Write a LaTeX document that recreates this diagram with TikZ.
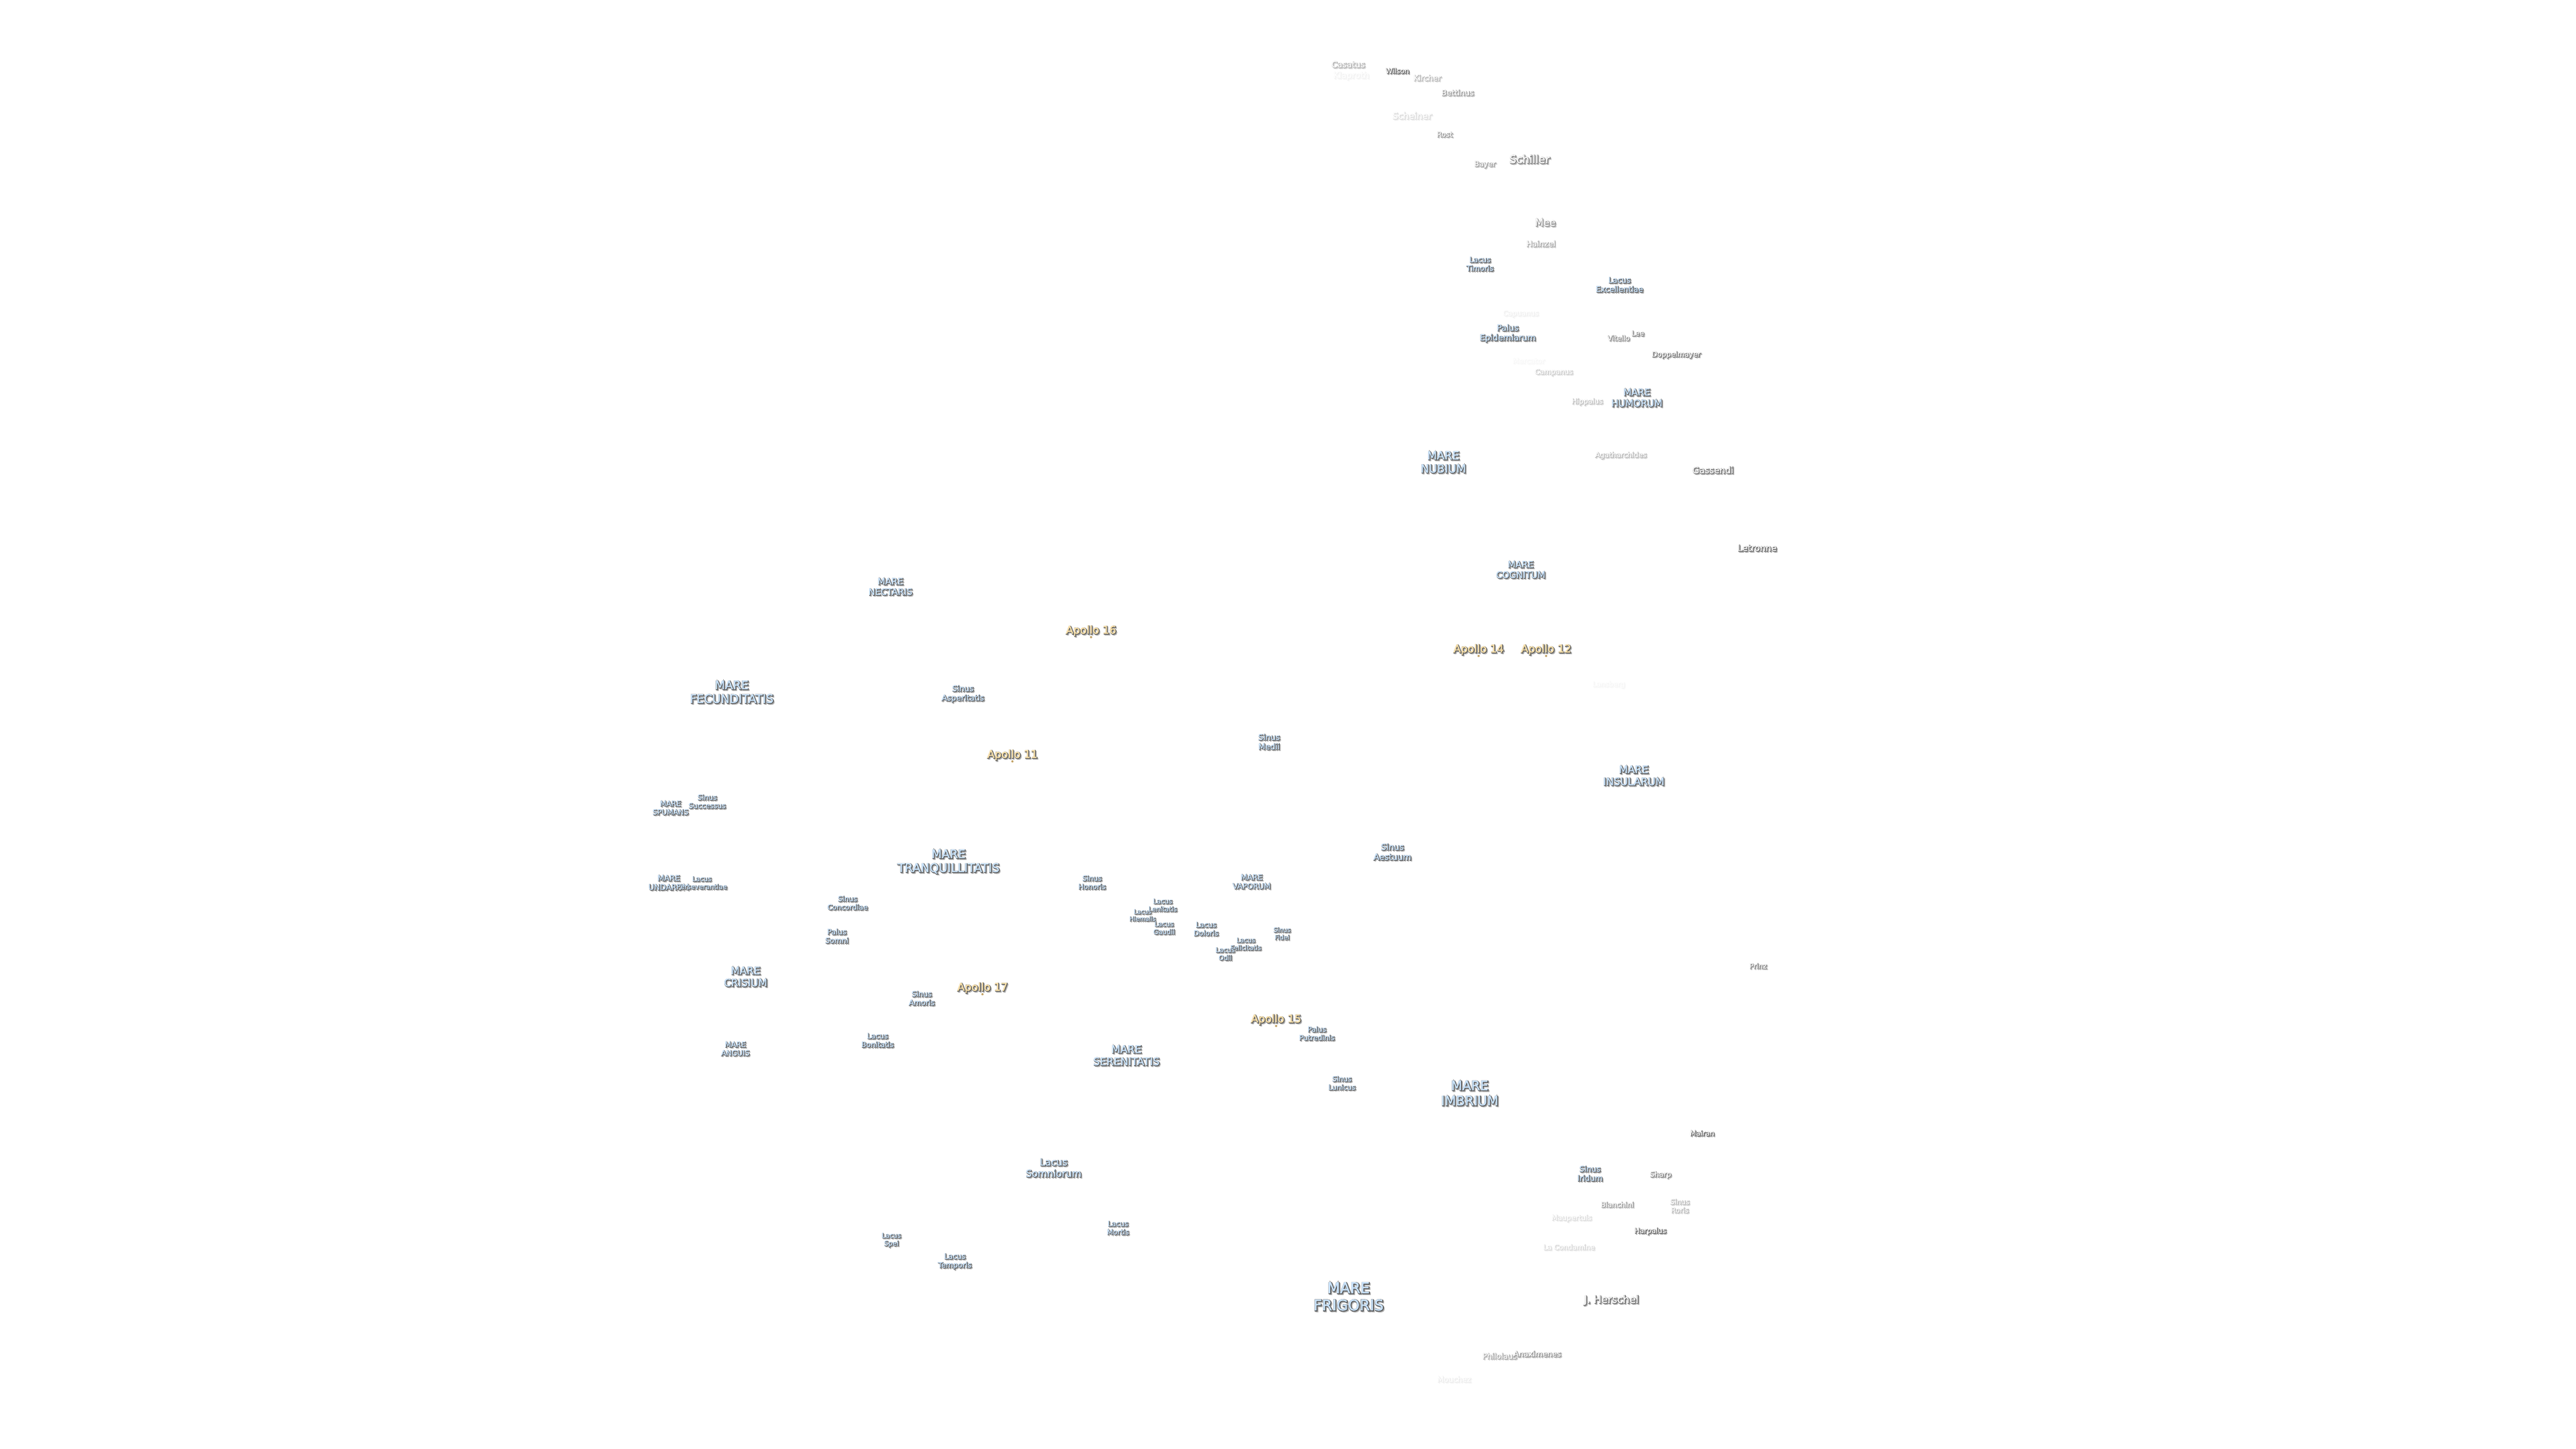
\documentclass[tikz,border=0pt]{standalone}
\usepackage{fontspec}
\setmainfont{DejaVu Sans}
\newfontfamily\fatf[FakeBold=9]{DejaVu Sans}
\newfontfamily\midf[FakeBold=2]{DejaVu Sans}
\definecolor{marefill}{HTML}{C9E2FA}
\definecolor{apofill}{HTML}{FDE3AC}
\definecolor{cratfill}{HTML}{F4F4F4}
\definecolor{apodot}{HTML}{C4A468}
\newcommand{\tb}[1]{\begin{tabular}{@{}c@{}}#1\end{tabular}}
\newcommand{\ly}[4]{\rlap{\kern#1\raisebox{#2}{\fatf\fontsize{\szz}{\lzz}\selectfont\textcolor{#3}{\tb{#4}}}}}
% name, x px, y px, size px, fill colour, strength %, text, vertical correction px
\newcommand{\lbl}[8]{%
 \pgfmathsetlengthmacro{\szz}{#4*0.2845pt}%
 \pgfmathsetlengthmacro{\lzz}{#4*0.2845pt*1.17}%
 \colorlet{tA}{black!32!white!#6!white}%
 \colorlet{tC}{black!68!white!#6!white}%
 \colorlet{tE}{#5!#6!white}%
 \node[moonlabel] (#1) at ({#2*0.01},{(3240-#3-#8)*0.01}) {\midf\fontsize{\szz}{\lzz}\selectfont
  \ly{0.028cm}{-0.028cm}{tA}{#7}\ly{0.008cm}{-0.008cm}{tC}{#7}\textcolor{tE}{\tb{#7}}};}
\newcommand{\mre}[6]{\lbl{#1}{#2}{#3}{#4}{marefill}{#5}{#6}{(0.4*(#4-16)+1)}}
\newcommand{\crt}[6]{\lbl{#1}{#2}{#3}{#4}{cratfill}{#5}{#6}{1}}
\newcommand{\apo}[4]{\lbl{#1}{#2}{#3}{24}{apofill}{100}{#4}{4}
 \node[apodotstyle] (#1dot) at ({#2*0.01},{(3240-#3-16)*0.01}) {};}
\tikzset{
 moonlabel/.style={inner sep=0pt,outer sep=0pt,align=center},
 apodotstyle/.style={circle,fill=apodot,inner sep=0pt,minimum size=0.05cm}
}
\begin{document}
\begin{tikzpicture}
\fill[white] (0,0) rectangle (57.6,32.4);
\useasboundingbox (0,0) rectangle (57.6,32.4);
\crt{casatus}{3016}{145}{18.8}{50}{Casatus}
\crt{klaproth}{3023}{169}{19}{8}{Klaproth}
\crt{wilson}{3126}{159}{16}{100}{Wilson}
\crt{kircher}{3193}{175}{17.5}{45}{Kircher}
\crt{bettinus}{3261}{208}{17.5}{62}{Bettinus}
\crt{scheiner}{3159}{260}{20}{22}{Scheiner}
\crt{rost}{3232}{301}{16}{65}{Rost}
\crt{bayer}{3322}{367}{16.4}{62}{Bayer}
\crt{schiller}{3422}{358}{24.5}{78}{Schiller}
\crt{mee}{3457}{499}{22}{68}{Mee}
\crt{hainzel}{3447}{546}{17.6}{55}{Hainzel}
\mre{timoris}{3311}{591}{16.5}{100}{Lacus\\Timoris}
\mre{excellentiae}{3623}{637}{17.4}{100}{Lacus\\Excellentiae}
\crt{capuanus}{3402}{701}{16}{10}{Capuanus}
\mre{epidemiarum}{3373}{744}{18.7}{100}{Palus\\Epidemiarum}
\crt{lee}{3664}{746}{16}{82}{Lee}
\crt{vitello}{3621}{757}{16}{72}{Vitello}
\crt{doppelmayer}{3750}{793}{16.2}{88}{Doppelmayer}
\crt{mercator}{3420}{808}{16}{5}{Mercator}
\crt{campanus}{3476}{832}{16}{32}{Campanus}
\mre{humorum}{3662}{889}{21}{100}{MARE\\HUMORUM}
\crt{hippalus}{3551}{898}{16}{40}{Hippalus}
\mre{nubium}{3229}{1032}{25}{100}{MARE\\NUBIUM}
\crt{agatharchides}{3626}{1018}{16}{45}{Agatharchides}
\crt{gassendi}{3832}{1053}{20}{88}{Gassendi}
\crt{letronne}{3931}{1227}{19.7}{95}{Letronne}
\mre{cognitum}{3402}{1274}{20}{100}{MARE\\COGNITUM}
\apo{apolloXIV}{3308}{1450}{Apollo 14}
\apo{apolloXII}{3459}{1450}{Apollo 12}
\crt{lansberg}{3599}{1531}{15.7}{6}{Lansberg}
\mre{nectaris}{1992}{1312}{20}{100}{MARE\\NECTARIS}
\apo{apolloXVI}{2441}{1408}{Apollo 16}
\mre{fecunditatis}{1637}{1546}{26.2}{100}{MARE\\FECUNDITATIS}
\mre{asperitatis}{2154}{1551}{17.8}{100}{Sinus\\Asperitatis}
\apo{apolloXI}{2265}{1686}{Apollo 11}
\mre{medii}{2839}{1660}{18}{100}{Sinus\\Medii}
\mre{insularum}{3655}{1734}{23}{100}{MARE\\INSULARUM}
\mre{aestuum}{3115}{1906}{19}{100}{Sinus\\Aestuum}
\mre{successus}{1582}{1794}{16}{100}{Sinus\\Successus}
\mre{spumans}{1500}{1808}{16.3}{100}{MARE\\SPUMANS}
\mre{undarum}{1496}{1975}{17.4}{100}{MARE\\UNDARUM}
\mre{perseverantiae}{1570}{1976}{15}{100}{Lacus\\Perseverantiae}
\mre{tranquillitatis}{2122}{1924}{26.5}{100}{MARE\\TRANQUILLITATIS}
\mre{concordiae}{1896}{2021}{16}{100}{Sinus\\Concordiae}
\mre{somni}{1872}{2095}{16.6}{100}{Palus\\Somni}
\mre{crisium}{1668}{2184}{23}{100}{MARE\\CRISIUM}
\apo{apolloXVII}{2198}{2207}{Apollo 17}
\mre{amoris}{2062}{2234}{16.6}{100}{Sinus\\Amoris}
\mre{bonitatis}{1963}{2328}{16.4}{100}{Lacus\\Bonitatis}
\mre{anguis}{1645}{2347}{16.4}{100}{MARE\\ANGUIS}
\mre{honoris}{2443}{1975}{16}{100}{Sinus\\Honoris}
\mre{lenitatis}{2601}{2026}{15}{100}{Lacus\\Lenitatis}
\mre{hiemalis}{2556}{2049}{13.6}{100}{Lacus\\Hiemalis}
\mre{gaudii}{2604}{2077}{15}{100}{Lacus\\Gaudii}
\mre{doloris}{2698}{2079}{16}{100}{Lacus\\Doloris}
\mre{vaporum}{2800}{1973}{17}{100}{MARE\\VAPORUM}
\mre{fidei}{2868}{2090}{14.2}{100}{Sinus\\Fidei}
\mre{felicitatis}{2787}{2113}{14.6}{100}{Lacus\\Felicitatis}
\mre{odii}{2741}{2135}{15}{100}{Lacus\\Odii}
\apo{apolloXV}{2855}{2278}{Apollo 15}
\mre{putredinis}{2946}{2313}{16}{100}{Palus\\Putredinis}
\mre{serenitatis}{2520}{2360}{23.5}{100}{MARE\\SERENITATIS}
\mre{lunicus}{3002}{2424}{16}{100}{Sinus\\Lunicus}
\mre{imbrium}{3288}{2443}{29}{100}{MARE\\IMBRIUM}
\crt{prinz}{3933}{2162}{16}{78}{Prinz}
\mre{somniorum}{2357}{2612}{21.6}{100}{Lacus\\Somniorum}
\mre{mortis}{2501}{2748}{16}{100}{Lacus\\Mortis}
\mre{spei}{1994}{2774}{15}{100}{Lacus\\Spei}
\mre{temporis}{2136}{2821}{16.7}{100}{Lacus\\Temporis}
\crt{mairan}{3808}{2536}{16}{100}{Mairan}
\mre{iridum}{3557}{2626}{17.5}{100}{Sinus\\Iridum}
\crt{sharp}{3715}{2628}{16.3}{78}{Sharp}
\crt{bianchini}{3618}{2696}{16}{62}{Bianchini}
\crt{roris}{3758}{2699}{16}{45}{Sinus\\Roris}
\crt{maupertuis}{3516}{2725}{16}{22}{Maupertuis}
\crt{harpalus}{3692}{2754}{16}{100}{Harpalus}
\crt{condamine}{3510}{2791}{16}{25}{La Condamine}
\mre{frigoris}{3017}{2897}{33}{100}{MARE\\FRIGORIS}
\crt{herschel}{3605}{2909}{23}{92}{J. Herschel}
\crt{philolaus}{3355}{3035}{17.3}{55}{Philolaus}
\crt{anaximenes}{3439}{3030}{17.3}{68}{Anaximenes}
\crt{mouchez}{3253}{3087}{17}{12}{Mouchez}
\end{tikzpicture}
\end{document}
